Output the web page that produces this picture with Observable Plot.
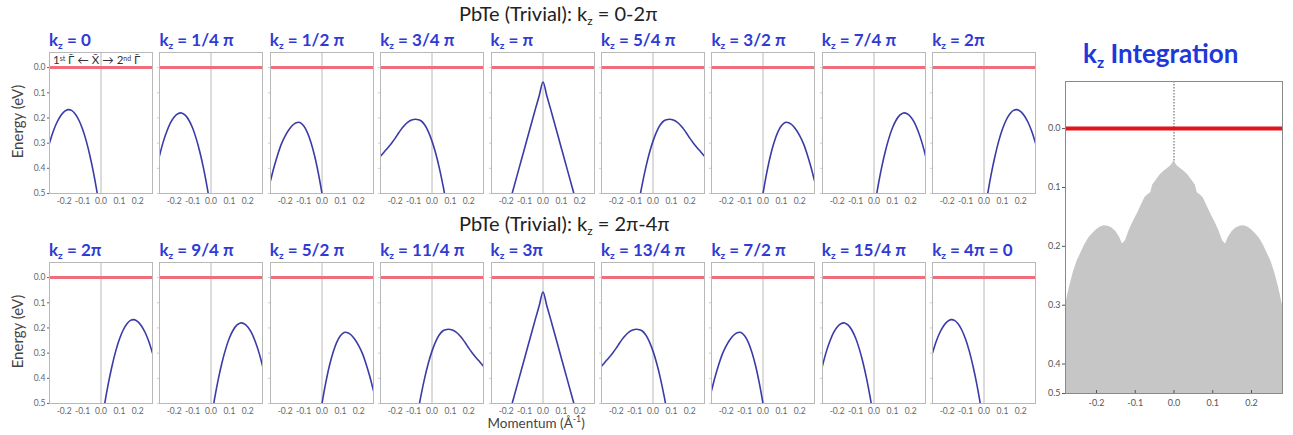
<!DOCTYPE html>
<html><head><meta charset="utf-8">
<script src="https://cdn.jsdelivr.net/npm/d3@7"></script>
<script src="https://cdn.jsdelivr.net/npm/@observablehq/plot@0.6"></script>
<style>
body{margin:0;background:#fff;}
#root{position:relative;width:1293px;height:435px;overflow:hidden;font-family:Lato,"Open Sans",sans-serif;}
.abs{position:absolute;white-space:nowrap;line-height:1;}
.rowtitle{font-size:20px;color:#222;}
.ptitle{font-size:17px;font-weight:bold;color:#2f3bd2;}
.ptitle sub,.rowtitle sub,.bigtitle sub{font-size:0.6em;vertical-align:-0.3em;}
.bigtitle{font-size:26px;font-weight:bold;color:#2038d8;}
.ylab{font-size:15px;color:#444;transform:rotate(-90deg);transform-origin:center center;}
.xlab{font-size:13.5px;color:#444;}
.note{font-size:11.5px;color:#333;}
.note sup{font-size:0.6em;vertical-align:0.5em;}
</style></head>
<body><div id="root"></div>
<script>
// ---------- data ----------
const momentum = [-0.28,-0.26,-0.24,-0.22,-0.20,-0.18,-0.16,-0.14,-0.12,-0.10,-0.08,-0.06,-0.04,-0.02,0.00,
                  0.02,0.04,0.06,0.08,0.10,0.12,0.14,0.16,0.18,0.20,0.22,0.24,0.26,0.28];
const E_0    = [0.300,0.254,0.218,0.192,0.175,0.167,0.170,0.184,0.209,0.245,0.292,0.351,0.420,0.501,0.593,
                null,null,null,null,null,null,null,null,null,null,null,null,null,null];
const E_1_4  = [0.350,0.296,0.253,0.219,0.196,0.183,0.180,0.189,0.209,0.240,0.283,0.337,0.402,0.479,0.567,
                null,null,null,null,null,null,null,null,null,null,null,null,null,null];
const E_1_2  = [0.450,0.393,0.344,0.302,0.271,0.247,0.229,0.219,0.218,0.231,0.257,0.297,0.351,0.419,0.500,
                0.590,null,null,null,null,null,null,null,null,null,null,null,null,null];
const E_3_4  = [0.352,0.335,0.318,0.300,0.280,0.258,0.238,0.222,0.211,0.206,0.206,0.211,0.227,0.254,0.292,
                0.340,0.399,0.469,0.549,null,null,null,null,null,null,null,null,null,null];
const E_1    = [null,null,null,null,0.585,0.532,0.479,0.426,0.373,0.320,0.267,0.214,0.161,0.110,0.057,
                0.110,0.161,0.214,0.267,0.320,0.373,0.426,0.479,0.532,0.585,null,null,null,null];
const E_5_4  = [null,null,null,null,null,null,null,null,null,null,0.549,0.469,0.399,0.340,0.292,
                0.254,0.227,0.211,0.206,0.206,0.211,0.222,0.238,0.258,0.280,0.300,0.318,0.335,0.352];
const E_3_2  = [null,null,null,null,null,null,null,null,null,null,null,null,null,0.590,0.500,
                0.419,0.351,0.297,0.257,0.231,0.218,0.219,0.229,0.247,0.271,0.302,0.344,0.393,0.450];
const E_7_4  = [null,null,null,null,null,null,null,null,null,null,null,null,null,null,0.567,
                0.479,0.402,0.337,0.283,0.240,0.209,0.189,0.180,0.183,0.196,0.219,0.253,0.296,0.350];
const E_2    = [null,null,null,null,null,null,null,null,null,null,null,null,null,null,0.593,
                0.501,0.420,0.351,0.292,0.245,0.209,0.184,0.170,0.167,0.175,0.192,0.218,0.254,0.300];

const row1Labels = ["0","1/4 π","1/2 π","3/4 π","π","5/4 π","3/2 π","7/4 π","2π"];
const row1Curves = [E_0,E_1_4,E_1_2,E_3_4,E_1,E_5_4,E_3_2,E_7_4,E_2];
const row2Labels = ["2π","9/4 π","5/2 π","11/4 π","3π","13/4 π","7/2 π","15/4 π","4π = 0"];
const row2Curves = [E_2,E_7_4,E_3_2,E_5_4,E_1,E_3_4,E_1_2,E_1_4,E_0];
const rowTitles = ["0-2π","2π-4π"];

const xTicks = [-0.2,-0.1,0,0.1,0.2];
const yTicks = [0,0.1,0.2,0.3,0.4,0.5];
const intTicksY = [0,0.1,0.2,0.3,0.4,0.45];

const intMomentum = [-0.28,-0.27,-0.26,-0.25,-0.24,-0.23,-0.22,-0.21,-0.20,-0.19,-0.18,-0.17,-0.16,-0.15,-0.14,-0.133,
  -0.125,-0.115,-0.105,-0.095,-0.085,-0.075,-0.065,-0.06,-0.055,-0.045,-0.035,-0.025,-0.015,-0.008,0,
  0.008,0.015,0.025,0.035,0.045,0.055,0.06,0.065,0.075,0.085,0.095,0.105,0.115,0.125,
  0.133,0.14,0.15,0.16,0.17,0.18,0.19,0.20,0.21,0.22,0.23,0.24,0.25,0.26,0.27,0.28];
const intEnergy = [0.300,0.270,0.245,0.225,0.211,0.197,0.186,0.178,0.172,0.167,0.165,0.166,0.169,0.175,0.185,0.196,
  0.190,0.172,0.158,0.145,0.131,0.117,0.111,0.109,0.096,0.087,0.078,0.072,0.067,0.063,0.055,
  0.063,0.067,0.072,0.078,0.087,0.096,0.109,0.111,0.117,0.131,0.145,0.158,0.172,0.190,
  0.196,0.185,0.175,0.169,0.166,0.165,0.167,0.172,0.178,0.186,0.197,0.211,0.225,0.245,0.270,0.300];

// ---------- layout ----------
const root = document.getElementById("root");
const PANEL_W = 103, PANEL_H = 141, PITCH = 110.4, LEFT0 = 49;
const ROW_TOP = [52, 262];
const fmt = d => d.toFixed(1);

function place(el, left, top) {
  const w = document.createElement("div");
  w.style.position = "absolute"; w.style.left = left + "px"; w.style.top = top + "px";
  w.appendChild(el); root.appendChild(w); return w;
}
function html(cls, inner, left, top) {
  const d = document.createElement("div");
  d.className = "abs " + cls; d.innerHTML = inner;
  d.style.left = left + "px"; d.style.top = top + "px";
  root.appendChild(d); return d;
}

function smallPanel(energy, first) {
  const ml = first ? 49 : 6, mr = 6, mt = 4, mb = 20;
  const data = momentum.map((k, i) => ({k, e: energy[i]})).filter(d => d.e != null);
  const svg = Plot.plot({
    width: PANEL_W + ml + mr, height: PANEL_H + mt + mb,
    marginLeft: ml, marginRight: mr, marginTop: mt, marginBottom: mb,
    style: {fontFamily: "Lato, sans-serif", fontSize: "8.5px", color: "#666", background: "transparent", overflow: "visible"},
    x: {domain: [-0.28, 0.28], axis: null},
    y: {domain: [-0.06, 0.5], reverse: true, axis: null},
    marks: [
      Plot.ruleX([0], {stroke: "#b8b8b8", strokeWidth: 1}),
      Plot.ruleY([0], {stroke: "#f06d7c", strokeWidth: 3}),
      Plot.line(data, {x: "k", y: "e", stroke: "#3b3ba8", strokeWidth: 1.6, curve: "catmull-rom", clip: true}),
      Plot.frame({stroke: "#b8b8b8"}),
      Plot.axisX({ticks: xTicks, tickFormat: fmt, tickSize: 0, tickPadding: 4, label: null}),
      first
        ? Plot.axisY({ticks: yTicks, tickFormat: fmt, tickSize: 2, tickPadding: 2, label: null})
        : Plot.axisY({ticks: yTicks, tickSize: 2, text: null, stroke: "#ccc", label: null})
    ]
  });
  return {svg, ml, mt};
}

[row1Curves, row2Curves].forEach((curves, r) => {
  const labels = r === 0 ? row1Labels : row2Labels;
  curves.forEach((c, i) => {
    const {svg, ml, mt} = smallPanel(c, i === 0);
    const fl = LEFT0 + i * PITCH;
    place(svg, fl - ml, ROW_TOP[r] - mt);
    html("ptitle", "k<sub>z</sub> = " + labels[i], fl, ROW_TOP[r] - 21);
  });
  html("rowtitle", "PbTe (Trivial): k<sub>z</sub> = " + rowTitles[r], 459, ROW_TOP[r] - 49);
  const yl = html("ylab", "Energy (eV)", 0, 0);
  yl.style.left = (18 - yl.offsetWidth / 2) + "px";
  yl.style.top = (ROW_TOP[r] + 69 - yl.offsetHeight / 2) + "px";
});

html("note", "1<sup>st</sup> Γ̄ ← X̄ → 2<sup>nd</sup> Γ̄", 53, 54);
const xl = html("xlab", "Momentum (Å<sup style='font-size:0.65em'>-1</sup>)", 0, 415);
xl.style.left = (536 - xl.offsetWidth / 2) + "px";

// ---------- integration panel ----------
{
  const ml = 40, mr = 10, mt = 2, mb = 24, W = 217, H = 312;
  const intData = intMomentum.map((k, i) => ({k, e: intEnergy[i]}));
  const svg = Plot.plot({
    width: W + ml + mr, height: H + mt + mb,
    marginLeft: ml, marginRight: mr, marginTop: mt, marginBottom: mb,
    style: {fontFamily: "Lato, sans-serif", fontSize: "9px", color: "#555", background: "transparent", overflow: "visible"},
    x: {domain: [-0.28, 0.28], axis: null},
    y: {domain: [-0.08, 0.45], reverse: true, axis: null},
    marks: [
      Plot.ruleX([0], {stroke: "#555", strokeDasharray: "1.5,1.5"}),
      Plot.areaY(intData, {x: "k", y1: 0.5, y2: "e", fill: "#c6c6c6", clip: true}),
      Plot.ruleY([0], {stroke: "#e3151b", strokeWidth: 4}),
      Plot.frame({stroke: "#8a8a8a"}),
      Plot.axisY({ticks: intTicksY, tickFormat: fmt, tickSize: 3, tickPadding: 2, label: null}),
      Plot.axisX({ticks: xTicks, tickFormat: fmt, tickSize: 0, tickPadding: 6, label: null}),
      Plot.axisX({ticks: xTicks, tickSize: -3, text: null, label: null})
    ]
  });
  place(svg, 1065 - ml, 81 - mt);
  html("bigtitle", "k<sub>z</sub> Integration", 1083, 40);
}
</script>
</body></html>
